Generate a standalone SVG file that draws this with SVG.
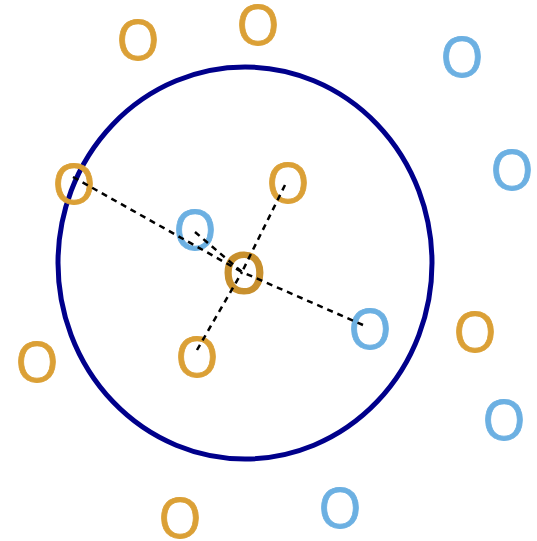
<svg xmlns="http://www.w3.org/2000/svg" width="537" height="541" viewBox="0 0 537 541">
<style>
.o{font-family:"Liberation Sans",Arial,sans-serif;font-size:58px;text-anchor:middle;stroke-width:0.8}
.or{fill:#DBA036;stroke:#DBA036}
.bl{fill:#6CB0E2;stroke:#6CB0E2}
.ctr{fill:#C8902E;stroke:#C8902E;stroke-width:2.2}
.d{stroke:#000;stroke-width:2.5;stroke-dasharray:6 5;fill:none}
</style>
<rect width="537" height="541" fill="#fff"/>
<g id="boundary"><ellipse cx="245" cy="263" rx="187" ry="196" fill="none" stroke="#00008B" stroke-width="5"/></g>
<g id="o-top-left"><text class="o or" x="138" y="60" textLength="42" lengthAdjust="spacingAndGlyphs">O</text></g>
<g id="o-top"><text class="o or" x="258" y="45" textLength="42" lengthAdjust="spacingAndGlyphs">O</text></g>
<g id="o-top-right"><text class="o bl" x="462" y="77" textLength="42" lengthAdjust="spacingAndGlyphs">O</text></g>
<g id="o-right"><text class="o bl" x="512" y="190" textLength="42" lengthAdjust="spacingAndGlyphs">O</text></g>
<g id="o-circle-left"><text class="o or" x="74" y="204" textLength="42" lengthAdjust="spacingAndGlyphs">O</text></g>
<g id="o-inner-upper"><text class="o or" x="288" y="203" textLength="42" lengthAdjust="spacingAndGlyphs">O</text></g>
<g id="o-inner-blue"><text class="o bl" x="195" y="250" textLength="42" lengthAdjust="spacingAndGlyphs">O</text></g>
<g id="o-center"><text class="o ctr" x="244" y="293" textLength="42" lengthAdjust="spacingAndGlyphs">O</text></g>
<g id="o-inner-right"><text class="o bl" x="370" y="349" textLength="42" lengthAdjust="spacingAndGlyphs">O</text></g>
<g id="o-inner-lower"><text class="o or" x="197" y="377" textLength="42" lengthAdjust="spacingAndGlyphs">O</text></g>
<g id="o-left"><text class="o or" x="37" y="382" textLength="42" lengthAdjust="spacingAndGlyphs">O</text></g>
<g id="o-right-mid"><text class="o or" x="475" y="352" textLength="42" lengthAdjust="spacingAndGlyphs">O</text></g>
<g id="o-right-low"><text class="o bl" x="504" y="440" textLength="42" lengthAdjust="spacingAndGlyphs">O</text></g>
<g id="o-bottom-left"><text class="o or" x="180" y="538" textLength="42" lengthAdjust="spacingAndGlyphs">O</text></g>
<g id="o-bottom"><text class="o bl" x="340" y="528" textLength="42" lengthAdjust="spacingAndGlyphs">O</text></g>
<g id="connectors">
<line class="d" x1="73" y1="177" x2="242" y2="272"/>
<line class="d" x1="195" y1="232" x2="242" y2="272"/>
<line class="d" x1="285" y1="185" x2="242" y2="272"/>
<line class="d" x1="197" y1="350" x2="242" y2="272"/>
<line class="d" x1="363" y1="325" x2="242" y2="272"/>
</g>
</svg>
